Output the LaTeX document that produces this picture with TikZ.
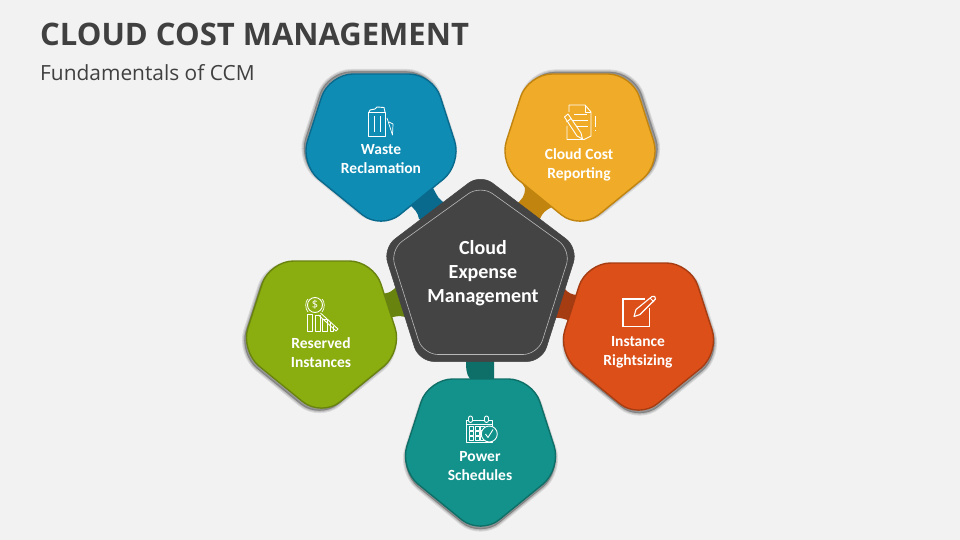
\documentclass[tikz,border=0pt]{standalone}
\usepackage{fontspec}
\setmainfont{Open Sans}
\newfontfamily\lblfont{Carlito}
\definecolor{bgc}{HTML}{F2F2F2}
\definecolor{inkc}{HTML}{404040}
\definecolor{darkc}{HTML}{444444}
\definecolor{bluef}{HTML}{0E8CB4}\definecolor{blued}{HTML}{0A6A8E}
\definecolor{orangef}{HTML}{F0AC28}\definecolor{oranged}{HTML}{C1840F}
\definecolor{greenf}{HTML}{8AAD0F}\definecolor{greend}{HTML}{69830F}
\definecolor{redf}{HTML}{DC4F19}\definecolor{redd}{HTML}{A63C12}
\definecolor{tealf}{HTML}{12928A}\definecolor{teald}{HTML}{0E6F68}
\tikzset{
  lbl/.style={text=white,font=\lblfont\fontsize{15.5}{19}\selectfont\bfseries,align=center,inner sep=0pt},
  clbl/.style={text=white,font=\lblfont\fontsize{20}{24}\selectfont\bfseries,align=center,inner sep=0pt},
  ico/.style={draw=white,line width=0.9pt,line join=round,fill=none},
}
\newcommand{\pentpath}{(-52,0) -- (52,0) -- (81,90) -- (0,156) -- (-81,90) -- cycle}
% cx, top, fill, edge, shadow dx, shadow dy
\newcommand{\pentagon}[6]{%
  \begin{scope}[shift={(#1,#2)}]
    \foreach \w in {5,3,1}{
      \draw[rounded corners=24pt,black,fill=black,opacity=0.1,line width=\w pt,shift={(#5,#6)}] \pentpath;
    }
    \draw[rounded corners=24pt,fill=#3,draw=#4,line width=1.4pt] \pentpath;
  \end{scope}}
\begin{document}
\begin{tikzpicture}[x=1pt,y=-1pt]
\useasboundingbox (0,0) rectangle (960,540);
\fill[bgc] (0,0) rectangle (960,540);
% title
\node[anchor=base west,inner sep=0pt,text=inkc,font=\fontsize{31}{36}\selectfont\bfseries] (title) at (40,46) {CLOUD COST MANAGEMENT};
\node[anchor=base west,inner sep=0pt,text=inkc,font=\fontsize{20.9}{24}\selectfont] (sub) at (40,81) {Fundamentals of CCM};
% necks
\fill[blued] (440,180) -- (433,188) .. controls (437,195) and (438,200) .. (447,204) -- (435,225) -- (419,219) .. controls (418,212) and (414,209) .. (410,205) -- (405,195) -- cycle;
\fill[oranged] (520,180) -- (525,188) .. controls (525,196) and (522,200) .. (515,205) -- (530,225) -- (540,219) .. controls (542,213) and (546,210) .. (552,207) -- (560,195) -- cycle;
\fill[greend] (370,285) -- (380,293) .. controls (386,295) and (392,292) .. (398,285) -- (415,285) -- (410,320) .. controls (403,314) and (396,316) .. (390,318) -- (380,325) -- cycle;
\fill[redd] (590,285) -- (578,295) .. controls (572,295) and (568,293) .. (564,288) -- (545,285) -- (550,318) .. controls (560,317) and (566,319) .. (572,322) -- (585,325) -- cycle;
\fill[teald] (470,385) -- (470,379) .. controls (466,374) and (466,368) .. (466,358) -- (494,358) .. controls (494,368) and (494,374) .. (494,379) -- (494,385) -- cycle;
% outer pentagons
\pentagon{381}{74}{bluef}{blued}{-2}{-2.5}
\pentagon{580}{74}{orangef}{oranged}{2.5}{-2}
\pentagon{321.5}{261}{greenf}{greend}{-2}{2.5}
\pentagon{638.5}{263}{redf}{redd}{1}{3}
\pentagon{480.5}{379}{tealf}{teald}{0}{3}
% centre
\draw[rounded corners=15pt,fill=darkc,draw=darkc,line width=0.5pt] (480.5,174) -- (578,248) -- (542,361.5) -- (419,361.5) -- (383,248) -- cycle;
\draw[rounded corners=15pt,draw=white!62!darkc,line width=0.6pt] (480.5,185) -- (571,250) -- (538,354.5) -- (423,354.5) -- (390,250) -- cycle;
\node[clbl] (centre) at (483,273) {Cloud\\Expense\\Management};
% labels
\node[lbl] (waste) at (381,159.5) {Waste\\Reclamation};
\node[lbl] (report) at (579,165) {Cloud Cost\\Reporting};
\node[lbl] (reserved) at (321,353) {Reserved\\Instances};
\node[lbl] (rights) at (638,352.5) {Instance\\Rightsizing};
\node[lbl] (power) at (480,466) {Power\\Schedules};
% waste icon
\draw[ico] (368.5,112) rectangle (385,136);
\draw[ico] (369,112) -- (370,110) -- (375,109) -- (377,107) -- (384,107.5) -- (385,112);
\draw[ico] (374.5,116) -- (374.5,132) (380,116) -- (380,132);
\draw[ico,line width=0.7pt] (387,118) -- (392.5,135) -- (393,124) -- (389,122);
% report icon
\draw[ico] (569,112) -- (569,105) -- (585,105) -- (591,112) -- (591,136) -- (584,139.5) -- (567,139.5) -- (567,126);
\draw[ico] (585,105) -- (585,112) -- (591,112);
\draw[ico] (574,114) -- (587,114) (572,120.5) -- (588,120.5) (575,126.5) -- (588,126.5);
\draw[ico] (595,116) -- (595,127) (595,130) -- (595,131.5);
\draw[ico,fill=orangef] (564.5,117) -- (568,114) -- (581,133) -- (582.5,139) -- (577,136) -- cycle;
\draw[ico] (566.5,122) -- (571,118.5);
% reserved icon
\draw[ico] (315,305) circle (7.5);
\node[inner sep=0pt,text=white,font=\fontsize{11}{11}\selectfont] (dollar) at (315,305) {\$};
\draw[ico,line width=0.7pt] (308,299) .. controls (305,301) and (305,309) .. (308,312);
\draw[ico,line width=0.7pt] (322,299) .. controls (325,301) and (325,309) .. (322,312);
\draw[ico] (307.5,314) rectangle (312.5,331) (315,315) rectangle (320,331) (322.5,319) rectangle (327.5,331) (330,322) -- (330,331) -- (333.5,331) -- (333.5,326);
\draw[ico] (320.5,313) -- (338,329) -- (336,331) -- (318.5,315);
% instance icon
\draw[line width=1.5pt,white,line join=miter] (645,299) -- (623,299) -- (623,326.5) -- (649.3,326.5) -- (649.3,308);
\draw[ico,line width=1.1pt] (634,316.5) -- (636,309.5) -- (652,296.5) .. controls (654,295) and (656,297) .. (655.5,299) -- (640,314.5) -- cycle;
\draw[ico,line width=0.8pt] (650,298) -- (654,302);
% calendar icon
\draw[ico] (466,420) rectangle (492,442.5);
\draw[ico] (466,424.5) -- (492,424.5);
\draw[ico,fill=tealf,rounded corners=2pt] (468.5,416) rectangle (472.5,422.5);
\draw[ico,fill=tealf,rounded corners=2pt] (484.5,416) rectangle (488.5,422.5);
\foreach \c in {0,1,2,3}{\foreach \r in {0,1,2}{
  \draw[ico,line width=0.7pt] ({469.5+\c*5.5},{426.5+\r*5}) rectangle ++(4,3.8);
}}
\draw[ico,fill=tealf] (489.3,434) circle (8);
\draw[ico] (485.5,434) -- (488,437.5) -- (493,429.5);
\end{tikzpicture}
\end{document}
